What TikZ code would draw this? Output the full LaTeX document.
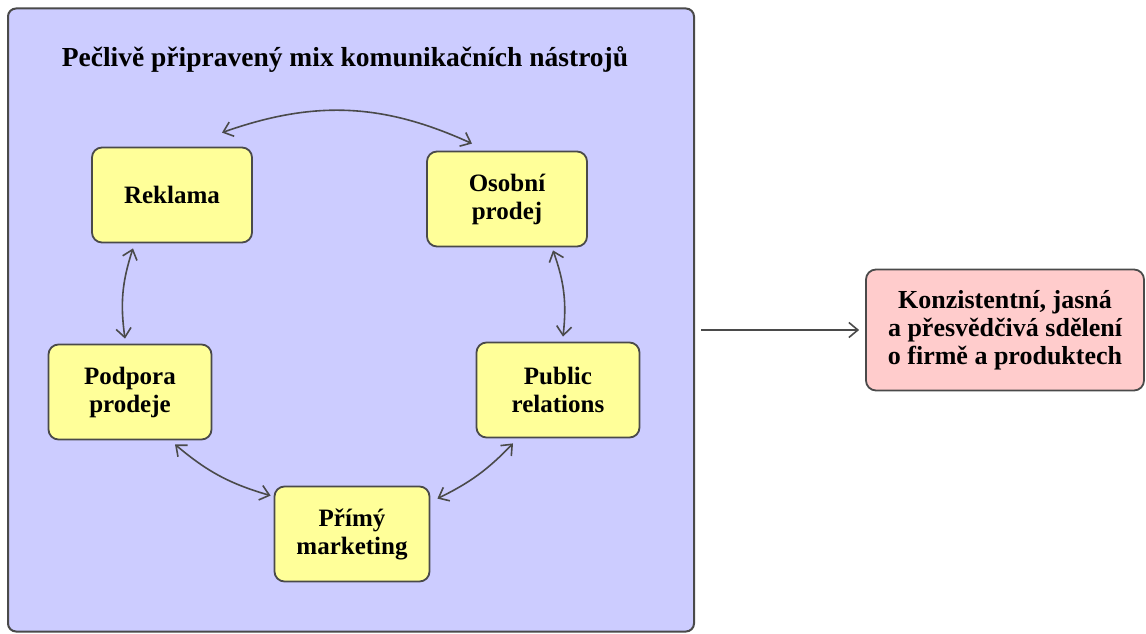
\documentclass[tikz,border=0pt]{standalone}
\usepackage{fontspec}
\setmainfont{Liberation Serif}
\usepackage{tikz}
\usetikzlibrary{arrows.meta,positioning}
\definecolor{mixblue}{HTML}{CCCCFF}
\definecolor{mixyellow}{HTML}{FFFF99}
\definecolor{mixpink}{HTML}{FFCCCC}
\definecolor{mixline}{HTML}{4A4A4A}

\begin{document}
\begin{tikzpicture}[x=1pt,y=-1pt,>={Straight Barb[length=9pt,width=15pt]},
  tool/.style={draw=mixline,line width=1.8pt,fill=mixyellow,rounded corners=10pt,minimum width=160pt,minimum height=95pt,align=center,font=\fontsize{25}{28}\selectfont\bfseries},
  link/.style={<->,draw=mixline,line width=1.6pt}]
  \useasboundingbox (0,0) rectangle (1146,634);
  % panel with the communication mix
  \node[draw=mixline,line width=2pt,fill=mixblue,rounded corners=8pt,minimum width=686pt,minimum height=623pt] (panel) at (351,320) {};
  \node[font=\fontsize{27.5}{30}\selectfont\bfseries] (title) at (345,60) {Pečlivě připravený mix komunikačních nástrojů};
  \node[tool] (rek) at (172,195) {Reklama};
  \node[tool] (osob) at (507,199) {Osobní\\prodej};
  \node[tool,minimum width=163pt] (podp) at (130,392) {Podpora\\prodeje};
  \node[tool,minimum width=163pt] (pub) at (558,390) {Public\\relations};
  \node[tool,minimum width=155pt] (prim) at (352,534) {Přímý\\marketing};
  % result
  \node[draw=mixline,line width=1.8pt,fill=mixpink,rounded corners=10pt,minimum width=278pt,minimum height=121pt,align=center,font=\fontsize{26}{28}\selectfont\bfseries] (res) at (1005,330) {Konzistentní, jasná\\a přesvědčivá sdělení\\o firmě a produktech};
  % links between tools
  \draw[link] ([xshift=50pt,yshift=14pt]rek.north) to[bend left=22] ([xshift=-35pt,yshift=7pt]osob.north);
  \draw[link] ([xshift=-39pt,yshift=-5pt]rek.south) to[bend right=13] ([xshift=-5pt,yshift=5pt]podp.north);
  \draw[link] ([xshift=46pt,yshift=-3pt]osob.south) to[bend left=13] ([xshift=5pt,yshift=5pt]pub.north);
  \draw[link] ([xshift=45pt,yshift=-4pt]podp.south) to[bend right=12] ([xshift=-3pt,yshift=-10pt]prim.north west);
  \draw[link] ([xshift=-45pt,yshift=-5pt]pub.south) to[bend left=10] ([xshift=7pt,yshift=-13pt]prim.north east);
  % mix gives the message
  \draw[->,draw=mixline,line width=1.6pt,shorten <=6pt,shorten >=6pt] (panel.east |- res.west) -- (res.west);
\end{tikzpicture}
\end{document}
